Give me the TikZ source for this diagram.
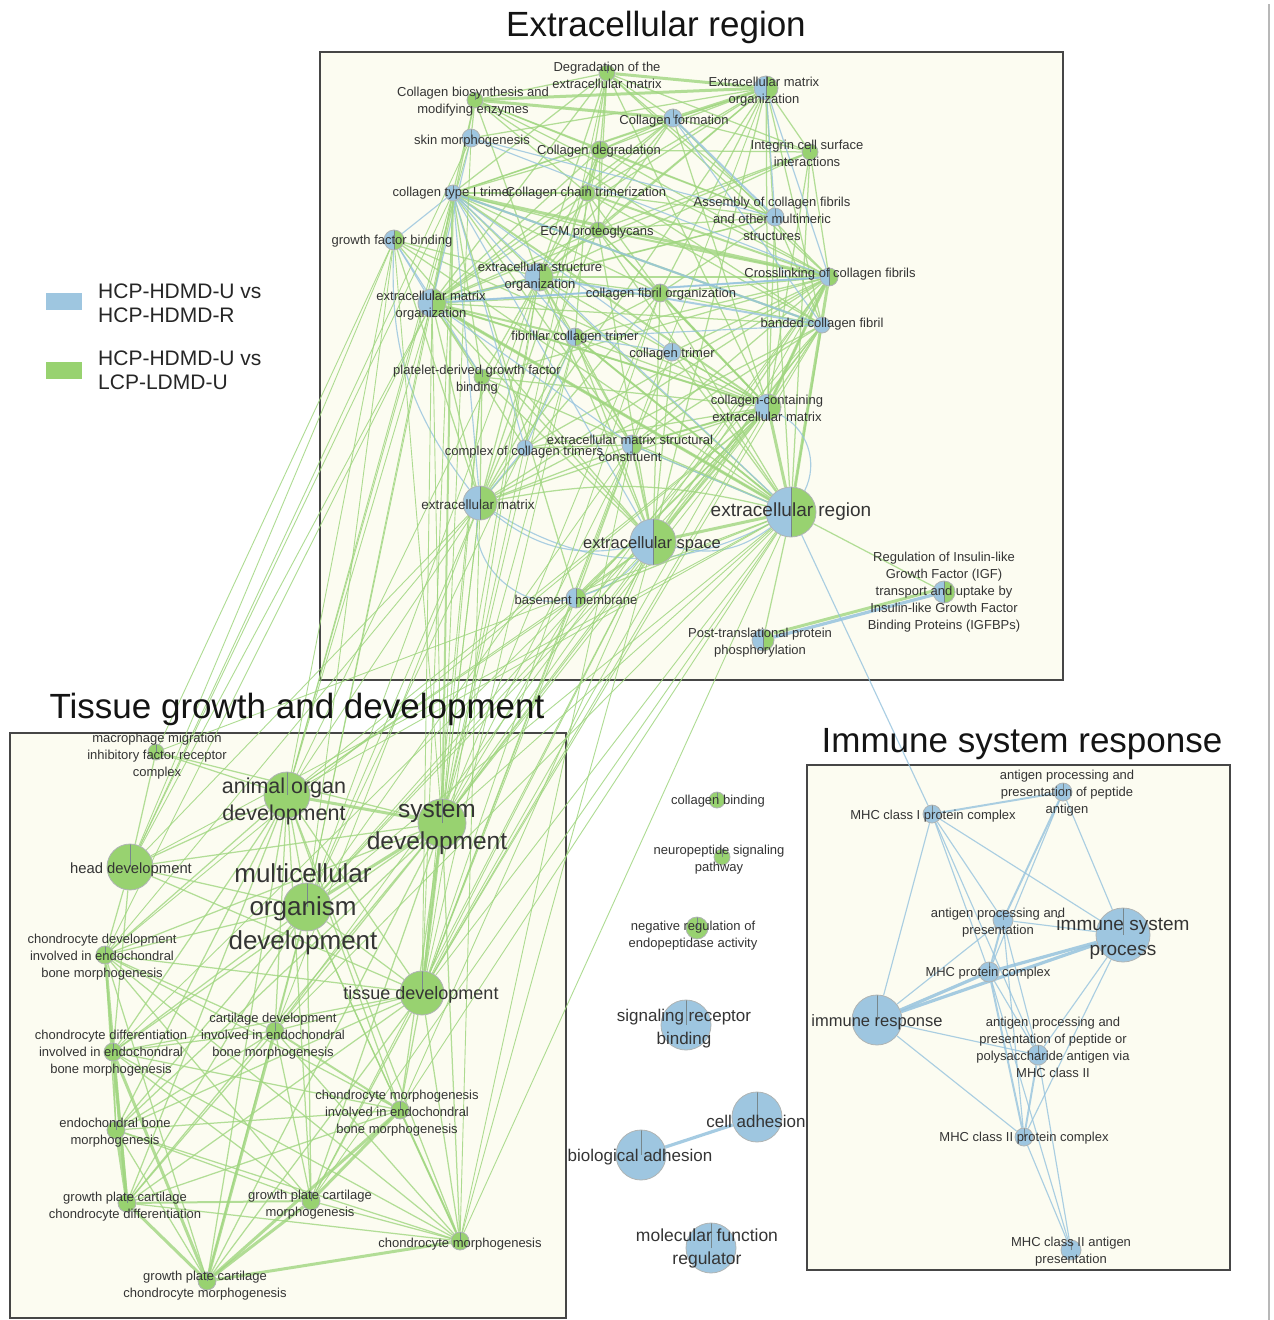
\documentclass[tikz,border=0pt]{standalone}
\usepackage{fontspec}
\setmainfont{Liberation Sans}
\pgfdeclarelayer{boxes}
\pgfdeclarelayer{edges}
\pgfsetlayers{boxes,edges,main}

\definecolor{nodeB}{RGB}{158,198,224}
\definecolor{nodeG}{RGB}{152,210,112}
\definecolor{edgeG}{RGB}{160,214,128}
\definecolor{edgeB}{RGB}{150,195,222}
\definecolor{boxfill}{RGB}{252,252,241}
\definecolor{boxline}{RGB}{70,70,70}
\definecolor{labC}{RGB}{52,52,52}
\definecolor{ringC}{RGB}{175,180,180}
\definecolor{divC}{RGB}{120,135,140}

\tikzset{
  nd/.style={circle, inner sep=0pt, draw=ringC, line width=0.8pt},
  rad/.style={minimum size=2*#1},
  nB/.style={nd, fill=nodeB, path picture={\draw[divC, line width=0.5pt] (path picture bounding box.center) -- (path picture bounding box.north);}},
  nG/.style={nd, fill=nodeG, path picture={\draw[divC, line width=0.5pt] (path picture bounding box.center) -- (path picture bounding box.north);}},
  nBG/.style={nd, path picture={
      \fill[nodeB] (path picture bounding box.south west) rectangle (path picture bounding box.north);
      \fill[nodeG] (path picture bounding box.south) rectangle (path picture bounding box.north east);
      \draw[divC, line width=0.5pt] (path picture bounding box.south) -- (path picture bounding box.north);}},
  lab/.style={inner sep=0pt, align=center, text=labC, yshift=-1.5pt, font=\fontsize{13}{17}\selectfont},
  ttl/.style={inner sep=0pt, text=black!92, yshift=-3pt, font=\fontsize{35}{40}\selectfont},
  legtxt/.style={inner sep=0pt, anchor=west, align=left, text=black!85, yshift=-1pt, font=\fontsize{21}{24}\selectfont},
  regionbox/.style={fill=boxfill, draw=boxline, line width=2pt},
  eG/.style={draw=edgeG, line width=1.25pt, draw opacity=0.8},
  eGt/.style={draw=edgeG, line width=0.9pt, draw opacity=0.85},
  eGm/.style={draw=edgeG, line width=2pt, draw opacity=0.8},
  eGk/.style={draw=edgeG, line width=3pt, draw opacity=0.8},
  eB/.style={draw=edgeB, line width=1.15pt, draw opacity=0.8},
  eBm/.style={draw=edgeB, line width=2pt, draw opacity=0.8},
  eBk/.style={draw=edgeB, line width=3.2pt, draw opacity=0.85},
}

\begin{document}
\begin{tikzpicture}[x=1pt, y=-1pt]
\useasboundingbox (0,0) rectangle (1274,1320);

% ---------- frames and page ----------
\begin{pgfonlayer}{boxes}
  \fill[white] (0,0) rectangle (1274,1320);
  \draw[regionbox] (320,52) rectangle (1063,680);
  \draw[regionbox] (10,733) rectangle (566,1318);
  \draw[regionbox] (807,765) rectangle (1230,1270);
  \draw[black!28, line width=2pt] (1269,4) -- (1269,1320);
\end{pgfonlayer}

% ---------- titles ----------
\node[ttl] (t1) at (656,24) {Extracellular region};
\node[ttl] (t2) at (297,706) {Tissue growth and development};
\node[ttl] (t3) at (1022,741) {Immune system response};

% ---------- legend ----------
\node[fill=nodeB, minimum width=36pt, minimum height=17pt, inner sep=0pt] (legB) at (64,301.5) {};
\node[legtxt] (legBt) at (98,302) {HCP-HDMD-U vs\\HCP-HDMD-R};
\node[fill=nodeG, minimum width=36pt, minimum height=17pt, inner sep=0pt] (legG) at (64,370.5) {};
\node[legtxt] (legGt) at (98,369) {HCP-HDMD-U vs\\LCP-LDMD-U};

% ---------- extracellular nodes ----------
\node[nG, rad=8pt] (deg) at (607,73) {};
\node[nBG, rad=12pt] (ecmoR) at (766,88) {};
\node[nG, rad=8pt] (cbio) at (475,100) {};
\node[nB, rad=9pt] (cform) at (673,118) {};
\node[nB, rad=9pt] (skin) at (471,138) {};
\node[nG, rad=9pt] (cdeg) at (600,150) {};
\node[nG, rad=8pt] (integ) at (810,152) {};
\node[nB, rad=8pt] (ct1) at (453,193) {};
\node[nG, rad=8pt] (cct) at (587,193) {};
\node[nB, rad=9pt] (assem) at (775,217) {};
\node[nBG, rad=10pt] (gfb) at (394,240) {};
\node[nG, rad=8pt] (ecmpg) at (598,230) {};
\node[nBG, rad=14pt] (eso) at (539,277) {};
\node[nBG, rad=14pt] (ecmo) at (432,303) {};
\node[nG, rad=9pt] (cfo) at (660,293) {};
\node[nBG, rad=9pt] (cross) at (829,277) {};
\node[nB, rad=8pt] (banded) at (822,325) {};
\node[nBG, rad=9pt] (fct) at (575,337) {};
\node[nB, rad=9pt] (ctrim) at (672,352) {};
\node[nG, rad=8pt] (pdgf) at (482,377) {};
\node[nBG, rad=13pt] (ccecm) at (768,407) {};
\node[nB, rad=8pt] (cct2) at (525,448) {};
\node[nBG, rad=10pt] (ecmsc) at (632,445) {};
\node[nBG, rad=17pt] (ecm) at (480,503) {};
\node[nBG, rad=25pt] (er) at (791,512) {};
\node[nBG, rad=23pt] (es) at (653,542) {};
\node[nBG, rad=10pt] (bm) at (576,598) {};
\node[nBG, rad=11pt] (igf) at (944,592) {};
\node[nBG, rad=11pt] (ptp) at (763,640) {};

% ---------- tissue growth nodes ----------
\node[nG, rad=8pt] (mmif) at (156,752) {};
\node[nG, rad=23pt] (aod) at (287,795) {};
\node[nG, rad=24pt] (sd) at (442,823) {};
\node[nG, rad=23pt] (hd) at (130,867) {};
\node[nG, rad=24pt] (mod) at (307,907) {};
\node[nG, rad=9pt] (cdev) at (105,955) {};
\node[nG, rad=22pt] (td) at (422,993) {};
\node[nG, rad=9pt] (cart) at (275,1031) {};
\node[nG, rad=9pt] (cdiff) at (113,1052) {};
\node[nG, rad=9pt] (cmorphE) at (400,1110) {};
\node[nG, rad=9pt] (ebm) at (116,1130) {};
\node[nG, rad=9pt] (gpcd) at (127,1203) {};
\node[nG, rad=9pt] (gpcm) at (311,1201) {};
\node[nG, rad=9pt] (cmorph) at (460,1241) {};
\node[nG, rad=9pt] (gpccm) at (207,1281) {};

% ---------- unclustered nodes ----------
\node[nG, rad=8pt] (cb) at (717,800) {};
\node[nG, rad=8pt] (nsp) at (722,857) {};
\node[nG, rad=11pt] (nreg) at (697,928) {};
\node[nB, rad=25pt] (srb) at (686,1025) {};
\node[nB, rad=25pt] (ca) at (757,1117) {};
\node[nB, rad=25pt] (ba) at (641,1155) {};
\node[nB, rad=25pt] (mfr) at (711,1248) {};

% ---------- immune nodes ----------
\node[nB, rad=9pt] (apppa) at (1063,792) {};
\node[nB, rad=9pt] (mhc1) at (932,814) {};
\node[nB, rad=10pt] (app) at (1003,920) {};
\node[nB, rad=27pt] (isp) at (1123,935) {};
\node[nB, rad=10pt] (mhcpc) at (989,972) {};
\node[nB, rad=25pt] (ir) at (877,1020) {};
\node[nB, rad=10pt] (appII) at (1038,1055) {};
\node[nB, rad=9pt] (mhc2pc) at (1024,1137) {};
\node[nB, rad=10pt] (mhc2ap) at (1071,1250) {};

% ---------- connectors ----------
\begin{pgfonlayer}{edges}
% extracellular cluster
\foreach \a/\b in {deg/cbio, deg/cform, deg/cdeg, deg/cct, deg/ecmpg, deg/cross, deg/assem, deg/eso, deg/ecmo, deg/ct1, deg/integ, deg/ccecm,
  ecmoR/cdeg, ecmoR/integ, ecmoR/banded, ecmoR/ccecm, ecmoR/er, ecmoR/eso, ecmoR/ecmo, ecmoR/ct1, ecmoR/ecmpg, ecmoR/cct, ecmoR/es, ecmoR/ecm, ecmoR/cfo, ecmoR/skin,
  cbio/cdeg, cbio/cct, cbio/ct1, cbio/cross, cbio/assem, cbio/eso, cbio/skin, cbio/ecmo, cbio/banded,
  cform/cdeg, cform/cct, cform/cross, cform/integ, cform/eso, cform/ecmo, cform/ecmpg, cform/ct1, cform/ccecm,
  cdeg/cct, cdeg/ecmpg, cdeg/cross, cdeg/eso, cdeg/ecmo, cdeg/integ, cdeg/assem, cdeg/ct1, cdeg/ecm,
  integ/cross, integ/eso, integ/ecmo, integ/ccecm, integ/ecmpg, integ/er,
  ct1/cct, ct1/ecmpg, ct1/cfo, ct1/eso, ct1/ecmo, ct1/pdgf, ct1/ecmsc, ct1/bm,
  cct/ecmpg, cct/assem, cct/eso, cct/cfo, cct/fct, cct/ecmo, cct/banded,
  assem/ecmpg, assem/eso, assem/cfo, assem/banded, assem/ecmo, assem/ccecm,
  gfb/eso, gfb/ecm, gfb/es, gfb/er, gfb/ccecm,
  ecmpg/eso, ecmpg/ecmo, ecmpg/ccecm, ecmpg/ecm, ecmpg/es, ecmpg/er, ecmpg/cfo,
  eso/cfo, eso/fct, eso/ccecm, eso/ecm, eso/es, eso/er, eso/ecmsc, eso/pdgf,
  ecmo/cfo, ecmo/banded, ecmo/ccecm, ecmo/ecm, ecmo/es, ecmo/er, ecmo/cct2, ecmo/pdgf,
  cfo/cross, cfo/banded, cfo/fct, cfo/ccecm, cfo/ecm, cfo/es, cfo/er,
  cross/ccecm, cross/fct, cross/ctrim, cross/ecmsc, cross/cct2, cross/ecm, cross/es, cross/pdgf,
  banded/ccecm, banded/ecmsc, banded/er, banded/es, banded/ecm,
  fct/ccecm, fct/ecmsc, fct/ecm, fct/es, fct/er,
  ctrim/ccecm, ctrim/ecmsc, ctrim/er, ctrim/es,
  pdgf/ecm, pdgf/es, pdgf/er, pdgf/ccecm,
  ccecm/ecmsc, ccecm/cct2, ccecm/ecm, ccecm/bm,
  cct2/ecmsc, ecmsc/ecm, ecmsc/er, bm/ecmsc, es/bm, er/bm, er/ptp, er/igf}
  \draw[eG] (\a) -- (\b);
\foreach \a/\b in {ct1/banded, ct1/ccecm, cct/cross, ecmpg/cross, eso/cross, ecmo/fct, ccecm/es, ecmsc/es, ecmo/ccecm, cfo/ccecm, fct/er, ecmsc/ccecm}
  \draw[eGm] (\a) -- (\b);
\foreach \a/\b in {deg/ecmoR, cbio/cform, cbio/ecmoR, cform/ecmoR, eso/ecmo, ct1/cross, ccecm/er, cross/er, es/er, cross/ccecm, ecmo/er}
  \draw[eGk] (\a) -- (\b);
\foreach \a/\b in {skin/cross, skin/assem, skin/ecmo, gfb/ecmo, gfb/ct1, gfb/pdgf, ct1/cct2, ct1/ctrim, ct1/fct, ct1/es, ct1/ecm, ct1/er,
  ecmo/cross, fct/banded, fct/ctrim, cct2/ecm, cct2/fct, ecmo/ecmsc, ecmoR/cross, ecmoR/assem, cform/banded, er/ecmsc, eso/ecmo}
  \draw[eB] (\a) -- (\b);
\foreach \a/\b in {cform/assem, ecmo/cross, ct1/banded, eso/banded}
  \draw[eBm] (\a) -- (\b);
\draw[eB] (ecm) to[bend right=25] (es);
\draw[eB] (ecm) to[bend right=55] (bm);
\draw[eB] (ecm) to[bend right=30] (er);
\draw[eG] (ecm) to[bend left=12] (er);
\draw[eB] (es) to[bend right=25] (er);
\draw[eB] (gfb) to[bend right=20] (ecm);
\draw[eB] (ccecm) to[bend left=45] (er);
\draw[eB] (es) to[bend left=15] (bm);
\draw[eBk] (igf) -- (ptp);
\draw[eGk, transform canvas={yshift=4pt}] (igf) -- (ptp);

% from the extracellular cluster down to the tissue cluster
\foreach \a/\b in {ecm/sd, ecm/aod, ecm/mod, ecm/td, ecm/hd, ecm/cmorph, ecm/cart, ecm/cdev,
  ecmo/sd, ecmo/aod, ecmo/hd, ecmo/mod, ecmo/td, ecmo/cdev,
  eso/sd, eso/aod, eso/mod, eso/td,
  es/sd, es/aod, es/mod, es/td, es/cmorph, es/cmorphE, es/gpcm,
  er/sd, er/aod, er/mod, er/td, er/hd, er/cmorph, er/cart, er/gpcm, er/mmif, er/cmorphE,
  ccecm/sd, ccecm/aod, ccecm/mod, ccecm/td, ccecm/cdev, ccecm/cdiff,
  ct1/td, ct1/aod, ct1/hd, ct1/mod,
  gfb/hd, gfb/aod, gfb/sd, gfb/mod, gfb/mmif,
  skin/aod, skin/sd, skin/hd,
  pdgf/sd, pdgf/td, cross/sd, cross/td, cross/cart,
  ecmsc/td, ecmsc/sd, ecmsc/mod, ecmsc/cmorph,
  bm/aod, bm/sd, bm/td, banded/sd, banded/mod, banded/td,
  cfo/td, cfo/sd, fct/sd, fct/td, fct/mod, deg/sd, ecmoR/td, cdeg/sd}
  \draw[eGt] (\a) -- (\b);
\draw[eGm] (ct1) -- (sd);

% tissue cluster
\foreach \a/\b in {aod/mod, aod/hd, aod/td, aod/mmif, aod/cdev, aod/cart, aod/cdiff, aod/cmorphE, aod/ebm, aod/gpcd, aod/gpcm, aod/cmorph, aod/gpccm,
  sd/hd, sd/cdev, sd/cart, sd/cdiff, sd/cmorphE, sd/ebm, sd/gpcd, sd/gpcm, sd/cmorph, sd/gpccm, sd/mmif,
  mod/hd, mod/td, mod/cdev, mod/cart, mod/cdiff, mod/cmorphE, mod/ebm, mod/gpcd, mod/gpcm, mod/cmorph, mod/gpccm,
  hd/td, hd/cdev, hd/cdiff, hd/mmif,
  td/cdev, td/cart, td/cdiff, td/cmorphE, td/ebm, td/gpcd, td/gpcm, td/cmorph, td/gpccm,
  cdev/cart, cdev/cdiff, cdev/cmorphE, cdev/ebm, cdev/gpcm, cdev/cmorph, cdev/gpccm,
  cart/cdiff, cart/ebm, cart/gpcd, cart/gpcm, cart/cmorph,
  cdiff/cmorphE, cdiff/ebm, cdiff/gpcm, cdiff/cmorph,
  cmorphE/ebm, cmorphE/gpcd, ebm/gpcm, ebm/cmorph, ebm/gpccm, gpcd/cmorph, gpcm/cmorph}
  \draw[eG] (\a) -- (\b);
\foreach \a/\b in {gpcd/gpcm, cmorphE/cmorph, cart/cmorphE}
  \draw[eGm] (\a) -- (\b);
\foreach \a/\b in {aod/sd, sd/mod, sd/td, cdev/gpcd, cdiff/gpccm, cdiff/gpcd, gpcd/gpccm, gpccm/cmorph, gpccm/cmorphE, ebm/gpcd, cart/gpccm, cmorphE/gpcm, gpcm/gpccm}
  \draw[eGk] (\a) -- (\b);

% immune cluster
\foreach \a/\b in {mhc1/ir, mhc1/isp, mhc1/mhcpc, mhc1/appII, mhc1/app, apppa/isp, apppa/mhcpc, app/isp, app/ir, app/mhc2pc, app/appII,
  ir/appII, ir/mhc2pc, isp/mhc2pc, isp/appII, mhcpc/appII, appII/mhc2ap, mhcpc/mhc2ap, mhc2pc/mhc2ap, er/mhc1}
  \draw[eB] (\a) -- (\b);
\foreach \a/\b in {mhc1/apppa, apppa/app, app/mhcpc, mhcpc/mhc2pc, appII/mhc2pc}
  \draw[eBm] (\a) -- (\b);
\foreach \a/\b in {mhcpc/isp, mhcpc/ir, ir/isp}
  \draw[eBk] (\a) -- (\b);

% adhesion pair
\draw[eBk] (ba) -- (ca);
\end{pgfonlayer}

% ---------- labels ----------
\node[lab] (deg-t) at (607,74) {Degradation of the\\extracellular matrix};
\node[lab] (ecmoR-t) at (764,90) {Extracellular matrix\\organization};
\node[lab] (cbio-t) at (473,100) {Collagen biosynthesis and\\modifying enzymes};
\node[lab] (cform-t) at (674,120) {Collagen formation};
\node[lab] (skin-t) at (472,140) {skin morphogenesis};
\node[lab] (cdeg-t) at (599,150) {Collagen degradation};
\node[lab] (integ-t) at (807,152) {Integrin cell surface\\interactions};
\node[lab] (ct1-t) at (453,192) {collagen type I trimer};
\node[lab] (cct-t) at (586,192) {Collagen chain trimerization};
\node[lab] (assem-t) at (772,217) {Assembly of collagen fibrils\\and other multimeric\\structures};
\node[lab] (gfb-t) at (392,240) {growth factor binding};
\node[lab] (ecmpg-t) at (597,231) {ECM proteoglycans};
\node[lab] (eso-t) at (540,275.5) {extracellular structure\\organization};
\node[lab] (ecmo-t) at (431,304.5) {extracellular matrix\\organization};
\node[lab] (cfo-t) at (661,293) {collagen fibril organization};
\node[lab] (cross-t) at (830,273) {Crosslinking of collagen fibrils};
\node[lab] (banded-t) at (822,323) {banded collagen fibril};
\node[lab] (fct-t) at (575,336) {fibrillar collagen trimer};
\node[lab] (ctrim-t) at (672,353) {collagen trimer};
\node[lab] (pdgf-t) at (477,378.5) {platelet-derived growth factor\\binding};
\node[lab] (ccecm-t) at (767,406.5) {collagen-containing\\extracellular matrix};
\node[lab] (cct2-t) at (524,451) {complex of collagen trimers};
\node[lab] (ecmsc-t) at (630,446.5) {extracellular matrix structural\\constituent};
\node[lab, font=\fontsize{13.5}{17}\selectfont] (ecm-t) at (478,503) {extracellular matrix};
\node[lab, font=\fontsize{19}{22}\selectfont] (er-t) at (791,510) {extracellular region};
\node[lab, font=\fontsize{16.5}{20}\selectfont] (es-t) at (652,543) {extracellular space};
\node[lab] (bm-t) at (576,598) {basement membrane};
\node[lab] (igf-t) at (944,591) {Regulation of Insulin-like\\Growth Factor (IGF)\\transport and uptake by\\Insulin-like Growth Factor\\Binding Proteins (IGFBPs)};
\node[lab] (ptp-t) at (760,641.5) {Post-translational protein\\phosphorylation};

\node[lab] (mmif-t) at (157,754.5) {macrophage migration\\inhibitory factor receptor\\complex};
\node[lab, font=\fontsize{21.5}{27}\selectfont] (aod-t) at (284,799.5) {animal organ\\development};
\node[lab, font=\fontsize{24.5}{32}\selectfont] (sd-t) at (437,827) {system\\development};
\node[lab, font=\fontsize{14.8}{18}\selectfont] (hd-t) at (131,868) {head development};
\node[lab, font=\fontsize{26}{33.5}\selectfont] (mod-t) at (303,907.5) {multicellular\\organism\\development};
\node[lab] (cdev-t) at (102,955.5) {chondrocyte development\\involved in endochondral\\bone morphogenesis};
\node[lab, font=\fontsize{18}{21}\selectfont] (td-t) at (421,993) {tissue development};
\node[lab] (cart-t) at (273,1035) {cartilage development\\involved in endochondral\\bone morphogenesis};
\node[lab] (cdiff-t) at (111,1052) {chondrocyte differentiation\\involved in endochondral\\bone morphogenesis};
\node[lab] (cmorphE-t) at (397,1111.5) {chondrocyte morphogenesis\\involved in endochondral\\bone morphogenesis};
\node[lab] (ebm-t) at (115,1131.5) {endochondral bone\\morphogenesis};
\node[lab] (gpcd-t) at (125,1205.5) {growth plate cartilage\\chondrocyte differentiation};
\node[lab] (gpcm-t) at (310,1203.5) {growth plate cartilage\\morphogenesis};
\node[lab] (cmorph-t) at (460,1243) {chondrocyte morphogenesis};
\node[lab] (gpccm-t) at (205,1284.5) {growth plate cartilage\\chondrocyte morphogenesis};

\node[lab] (cb-t) at (718,800) {collagen binding};
\node[lab] (nsp-t) at (719,858.5) {neuropeptide signaling\\pathway};
\node[lab] (nreg-t) at (693,934.5) {negative regulation of\\endopeptidase activity};
\node[lab, font=\fontsize{17}{23}\selectfont] (srb-t) at (684,1027.5) {signaling receptor\\binding};
\node[lab, font=\fontsize{17}{20}\selectfont] (ca-t) at (756,1120) {cell adhesion};
\node[lab, font=\fontsize{17}{20}\selectfont] (ba-t) at (640,1156) {biological adhesion};
\node[lab, font=\fontsize{17.5}{23}\selectfont] (mfr-t) at (707,1246.5) {molecular function\\regulator};

\node[lab] (apppa-t) at (1067,791.5) {antigen processing and\\presentation of peptide\\antigen};
\node[lab] (mhc1-t) at (933,815) {MHC class I protein complex};
\node[lab] (app-t) at (998,921.5) {antigen processing and\\presentation};
\node[lab, font=\fontsize{19}{25}\selectfont] (isp-t) at (1123,936.5) {immune system\\process};
\node[lab] (mhcpc-t) at (988,972) {MHC protein complex};
\node[lab, font=\fontsize{16.5}{20}\selectfont] (ir-t) at (877,1021) {immune response};
\node[lab] (appII-t) at (1053,1046) {antigen processing and\\presentation of peptide or\\polysaccharide antigen via\\MHC class II};
\node[lab] (mhc2pc-t) at (1024,1137) {MHC class II protein complex};
\node[lab] (mhc2ap-t) at (1071,1250.5) {MHC class II antigen\\presentation};
\end{tikzpicture}
\end{document}
